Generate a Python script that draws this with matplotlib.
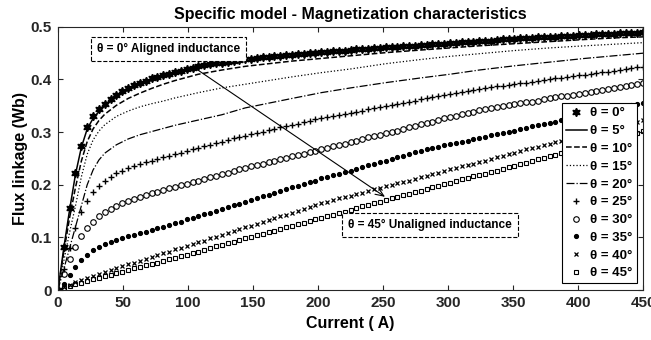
import numpy as np
import matplotlib
matplotlib.use('Agg')
import matplotlib.pyplot as plt

# current samples (A) for the curves drawn with markers, one every 4.5 A
current = [round(4.5 * k, 1) for k in range(101)]

# flux linkage (Wb)
flux_0 = [0.000, 0.082, 0.155, 0.222, 0.274, 0.310, 0.330, 0.343, 0.354, 0.363,
          0.371, 0.378, 0.384, 0.389, 0.394, 0.398, 0.402, 0.405, 0.408, 0.411,
          0.414, 0.417, 0.420, 0.422, 0.425, 0.427, 0.429, 0.431, 0.432, 0.434,
          0.435, 0.437, 0.438, 0.439, 0.441, 0.442, 0.443, 0.444, 0.445, 0.446,
          0.447, 0.448, 0.449, 0.450, 0.451, 0.452, 0.453, 0.454, 0.455, 0.455,
          0.456, 0.457, 0.458, 0.458, 0.459, 0.460, 0.461, 0.461, 0.462, 0.463,
          0.464, 0.464, 0.465, 0.466, 0.467, 0.467, 0.468, 0.469, 0.470, 0.471,
          0.471, 0.472, 0.473, 0.474, 0.474, 0.475, 0.476, 0.477, 0.477, 0.478,
          0.478, 0.479, 0.480, 0.480, 0.481, 0.481, 0.482, 0.483, 0.483, 0.484,
          0.484, 0.485, 0.486, 0.486, 0.487, 0.487, 0.488, 0.488, 0.489, 0.489,
          0.490]
flux_25 = [0.000, 0.040, 0.080, 0.118, 0.148, 0.170, 0.186, 0.198, 0.207, 0.215,
           0.222, 0.227, 0.232, 0.236, 0.240, 0.243, 0.246, 0.249, 0.252, 0.255,
           0.258, 0.261, 0.264, 0.267, 0.270, 0.273, 0.276, 0.279, 0.282, 0.285,
           0.288, 0.291, 0.293, 0.296, 0.299, 0.301, 0.304, 0.306, 0.309, 0.311,
           0.314, 0.316, 0.319, 0.321, 0.324, 0.326, 0.328, 0.330, 0.332, 0.335,
           0.337, 0.339, 0.341, 0.343, 0.345, 0.347, 0.349, 0.351, 0.353, 0.356,
           0.358, 0.360, 0.362, 0.364, 0.366, 0.368, 0.370, 0.372, 0.374, 0.376,
           0.378, 0.380, 0.382, 0.384, 0.385, 0.387, 0.388, 0.390, 0.391, 0.393,
           0.394, 0.396, 0.397, 0.399, 0.400, 0.402, 0.403, 0.405, 0.406, 0.408,
           0.409, 0.411, 0.412, 0.414, 0.415, 0.417, 0.418, 0.420, 0.421, 0.423,
           0.424]
flux_30 = [0.000, 0.030, 0.058, 0.082, 0.102, 0.118, 0.130, 0.140, 0.148, 0.154,
           0.160, 0.165, 0.169, 0.173, 0.177, 0.181, 0.184, 0.187, 0.190, 0.193,
           0.196, 0.199, 0.202, 0.205, 0.208, 0.211, 0.214, 0.217, 0.220, 0.223,
           0.226, 0.229, 0.232, 0.235, 0.237, 0.240, 0.243, 0.246, 0.248, 0.251,
           0.254, 0.257, 0.259, 0.262, 0.265, 0.267, 0.270, 0.273, 0.276, 0.278,
           0.281, 0.284, 0.287, 0.290, 0.292, 0.295, 0.298, 0.301, 0.303, 0.306,
           0.309, 0.312, 0.315, 0.317, 0.320, 0.323, 0.326, 0.328, 0.331, 0.334,
           0.337, 0.339, 0.342, 0.344, 0.346, 0.347, 0.349, 0.351, 0.353, 0.355,
           0.357, 0.358, 0.360, 0.362, 0.364, 0.366, 0.368, 0.369, 0.371, 0.373,
           0.375, 0.377, 0.379, 0.380, 0.382, 0.384, 0.386, 0.388, 0.389, 0.391,
           0.393]
flux_35 = [0.000, 0.012, 0.028, 0.044, 0.057, 0.067, 0.076, 0.082, 0.087, 0.091,
           0.095, 0.098, 0.102, 0.105, 0.108, 0.111, 0.114, 0.117, 0.120, 0.123,
           0.127, 0.130, 0.134, 0.137, 0.140, 0.144, 0.147, 0.151, 0.154, 0.157,
           0.161, 0.164, 0.168, 0.171, 0.174, 0.178, 0.181, 0.185, 0.188, 0.191,
           0.195, 0.198, 0.202, 0.205, 0.208, 0.212, 0.215, 0.218, 0.221, 0.224,
           0.227, 0.230, 0.234, 0.237, 0.240, 0.243, 0.246, 0.249, 0.252, 0.255,
           0.258, 0.262, 0.265, 0.267, 0.270, 0.272, 0.275, 0.277, 0.279, 0.282,
           0.284, 0.287, 0.289, 0.291, 0.294, 0.296, 0.299, 0.301, 0.303, 0.306,
           0.308, 0.311, 0.313, 0.315, 0.318, 0.320, 0.323, 0.325, 0.327, 0.330,
           0.332, 0.335, 0.337, 0.339, 0.342, 0.344, 0.347, 0.349, 0.351, 0.354,
           0.356]
flux_40 = [0.000, 0.005, 0.010, 0.015, 0.019, 0.023, 0.027, 0.031, 0.034, 0.038,
           0.042, 0.045, 0.049, 0.052, 0.056, 0.059, 0.063, 0.066, 0.070, 0.073,
           0.077, 0.080, 0.084, 0.087, 0.091, 0.094, 0.098, 0.101, 0.105, 0.108,
           0.112, 0.115, 0.119, 0.122, 0.126, 0.129, 0.133, 0.136, 0.140, 0.143,
           0.147, 0.150, 0.154, 0.157, 0.161, 0.165, 0.168, 0.171, 0.174, 0.177,
           0.179, 0.182, 0.185, 0.188, 0.191, 0.194, 0.197, 0.200, 0.203, 0.206,
           0.208, 0.211, 0.214, 0.217, 0.220, 0.223, 0.226, 0.229, 0.232, 0.235,
           0.237, 0.240, 0.243, 0.246, 0.249, 0.252, 0.255, 0.258, 0.261, 0.264,
           0.267, 0.269, 0.272, 0.275, 0.278, 0.281, 0.284, 0.286, 0.289, 0.292,
           0.295, 0.298, 0.300, 0.303, 0.306, 0.309, 0.312, 0.314, 0.317, 0.320,
           0.323]
flux_45 = [0.000, 0.004, 0.008, 0.011, 0.014, 0.017, 0.020, 0.023, 0.026, 0.029,
           0.032, 0.035, 0.038, 0.041, 0.044, 0.047, 0.050, 0.052, 0.055, 0.058,
           0.061, 0.064, 0.067, 0.070, 0.073, 0.076, 0.079, 0.083, 0.086, 0.089,
           0.092, 0.095, 0.098, 0.101, 0.104, 0.107, 0.110, 0.113, 0.116, 0.119,
           0.122, 0.125, 0.128, 0.131, 0.134, 0.137, 0.140, 0.143, 0.146, 0.149,
           0.152, 0.156, 0.159, 0.162, 0.165, 0.168, 0.171, 0.174, 0.177, 0.180,
           0.183, 0.186, 0.189, 0.192, 0.195, 0.198, 0.201, 0.204, 0.207, 0.210,
           0.213, 0.216, 0.218, 0.221, 0.224, 0.227, 0.230, 0.233, 0.236, 0.239,
           0.242, 0.245, 0.248, 0.251, 0.254, 0.257, 0.260, 0.263, 0.266, 0.269,
           0.272, 0.275, 0.278, 0.281, 0.284, 0.287, 0.290, 0.293, 0.296, 0.299,
           0.302]

# the plain line curves need fewer samples
current_line = [0, 4.5, 9, 13.5, 18, 22.5, 27, 31.5, 36, 45, 54, 63, 72, 81, 90,
                108, 126, 144, 162, 180, 202.5, 225, 252, 279, 301.5, 324, 351,
                378, 405, 427.5, 450]
flux_5 = [0.000, 0.080, 0.153, 0.220, 0.271, 0.306, 0.326, 0.339, 0.350, 0.367,
          0.380, 0.390, 0.398, 0.405, 0.411, 0.422, 0.429, 0.435, 0.440, 0.444,
          0.449, 0.453, 0.458, 0.462, 0.466, 0.470, 0.474, 0.478, 0.481, 0.484,
          0.487]
flux_10 = [0.000, 0.072, 0.138, 0.195, 0.245, 0.282, 0.306, 0.322, 0.334, 0.351,
           0.364, 0.374, 0.383, 0.391, 0.398, 0.410, 0.418, 0.425, 0.430, 0.435,
           0.440, 0.445, 0.451, 0.456, 0.460, 0.464, 0.468, 0.472, 0.476, 0.479,
           0.481]
flux_15 = [0.000, 0.055, 0.110, 0.160, 0.215, 0.258, 0.285, 0.302, 0.314, 0.330,
           0.340, 0.348, 0.354, 0.359, 0.365, 0.375, 0.384, 0.391, 0.398, 0.405,
           0.413, 0.420, 0.430, 0.438, 0.444, 0.449, 0.455, 0.460, 0.464, 0.467,
           0.470]
flux_20 = [0.000, 0.040, 0.080, 0.120, 0.160, 0.200, 0.228, 0.247, 0.260, 0.276,
           0.287, 0.295, 0.301, 0.307, 0.313, 0.323, 0.333, 0.346, 0.355, 0.364,
           0.375, 0.384, 0.394, 0.403, 0.410, 0.418, 0.426, 0.433, 0.440, 0.445,
           0.450]

x_ticks = [0, 50, 100, 150, 200, 250, 300, 350, 400, 450]
y_ticks = [0, 0.1, 0.2, 0.3, 0.4, 0.5]
y_tick_labels = ['0', '0.1', '0.2', '0.3', '0.4', '0.5']


def main():
    plt.rcParams['font.family'] = ['Liberation Sans', 'DejaVu Sans']
    plt.rcParams['font.weight'] = 'bold'
    fig = plt.figure(figsize=(6.51, 3.40), dpi=100)
    ax = fig.add_axes([0.089, 0.147, 0.899, 0.774])

    ax.plot(current, flux_0, ls='none', marker=(6, 1, 0), ms=6, color='k', label='θ = 0°')
    ax.plot(current_line, flux_5, '-', lw=1.1, color='k', label='θ = 5°')
    ax.plot(current_line, flux_10, '--', lw=1.1, color='k', label='θ = 10°')
    ax.plot(current_line, flux_15, ':', lw=0.9, color='k', label='θ = 15°')
    ax.plot(current_line, flux_20, '-.', lw=0.9, color='k', label='θ = 20°')
    ax.plot(current, flux_25, ls='none', marker='+', ms=4, mew=1.0, color='k', label='θ = 25°')
    ax.plot(current, flux_30, ls='none', marker='o', ms=4, mew=0.8, mfc='none', color='k', label='θ = 30°')
    ax.plot(current, flux_35, ls='none', marker='.', ms=5.5, color='k', label='θ = 35°')
    ax.plot(current, flux_40, ls='none', marker='x', ms=3, mew=0.9, color='k', label='θ = 40°')
    ax.plot(current, flux_45, ls='none', marker='s', ms=3.5, mew=0.8, mfc='none', color='k', label='θ = 45°')

    ax.set_xlim(0, 450)
    ax.set_ylim(0, 0.5)
    ax.set_xticks(x_ticks)
    ax.set_yticks(y_ticks)
    ax.set_yticklabels(y_tick_labels)
    ax.tick_params(direction='in', top=True, right=True, length=3.5, width=0.8,
                   labelsize=11, pad=4.5, colors='#262626')
    for s in ax.spines.values():
        s.set_color('#262626')
        s.set_linewidth(0.8)

    ax.set_title('Specific model - Magnetization characteristics', fontsize=11.5,
                 fontweight='bold', pad=6)
    ax.set_xlabel('Current ( A)', fontsize=11.5, fontweight='bold', labelpad=4)
    ax.set_ylabel('Flux linkage (Wb)', fontsize=11.5, fontweight='bold', labelpad=2)

    box = dict(boxstyle='square,pad=0.5', fc='white', ec='k', ls='--', lw=0.8)
    ax.text(85, 0.458, 'θ = 0° Aligned inductance', ha='center', va='center',
            fontsize=8.5, fontweight='bold', bbox=box)
    ax.text(286, 0.124, 'θ = 45° Unaligned inductance', ha='center', va='center',
            fontsize=8.5, fontweight='bold', bbox=box)
    ax.annotate('', xy=(251.5, 0.177), xytext=(104, 0.424),
                arrowprops=dict(arrowstyle='->,head_length=0.6,head_width=0.25',
                                lw=0.8, color='k', shrinkA=0, shrinkB=0))

    leg = ax.legend(loc='lower right', fontsize=9.5, handlelength=1.6,
                    labelspacing=0.42, borderaxespad=0.5, handletextpad=0.25,
                    fancybox=False, framealpha=1, borderpad=0.3)
    leg.get_frame().set_edgecolor('k')
    leg.get_frame().set_linewidth(0.8)

    fig.savefig('out.png', dpi=100)
    plt.close(fig)


if __name__ == '__main__':
    main()
